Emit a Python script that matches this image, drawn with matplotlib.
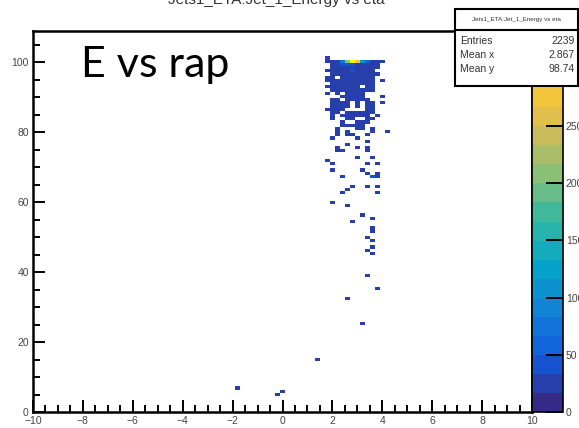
import numpy as np
import matplotlib
matplotlib.use("Agg")
import matplotlib.pyplot as plt
from matplotlib.colors import LinearSegmentedColormap, ListedColormap, BoundaryNorm
from matplotlib.ticker import MultipleLocator
from matplotlib.patches import Rectangle

# TH2 "Jet_1_Energy vs eta".
# each row: energy value and runs of filled rapidity bins (first, last) - low counts
row_y = [101.7, 100.1, 99.2, 98.3, 97.4, 96.4, 95.5, 94.6, 93.7, 92.9,
         92.0, 91.1, 90.2, 89.3, 88.4, 87.7, 86.8, 86.1, 85.2, 84.4,
         83.6, 82.9, 82.2, 81.4, 80.7, 80.0, 79.3, 78.5, 77.1, 76.3,
         75.4, 74.7, 73.3, 72.5, 71.8, 70.9, 69.3, 68.5, 67.7, 67.0,
         64.9, 63.4, 62.5, 60.3, 58.7, 56.6, 55.8, 54.9, 52.5, 51.8,
         50.3, 48.9, 47.3, 46.6, 45.7, 39.0, 35.0, 32.8, 25.1, 15.2,
         6.9, 6.1, 5.3]
row_runs = [
    [(1.8, 1.8)],
    [(1.8, 2.2), (3.6, 4.0)],
    [(2.0, 2.2), (3.0, 3.6), (3.8, 3.8)],
    [(2.0, 3.6), (3.8, 3.8)],
    [(1.8, 1.8), (2.0, 3.6)],
    [(2.0, 3.6), (3.8, 3.8)],
    [(1.8, 2.0), (2.4, 3.6)],
    [(1.8, 3.6), (4.0, 4.0)],
    [(2.0, 3.6)],
    [(1.8, 3.0), (3.4, 3.6)],
    [(2.0, 3.6)],
    [(1.8, 1.8), (2.2, 2.2), (2.6, 3.2)],
    [(2.4, 2.4), (2.6, 3.2), (4.0, 4.0)],
    [(2.0, 2.2), (2.6, 3.2), (3.4, 3.4)],
    [(2.0, 2.2), (2.4, 2.6), (3.0, 3.0), (3.4, 3.6), (4.0, 4.0)],
    [(2.0, 2.6), (3.0, 3.0), (3.4, 3.6)],
    [(1.8, 2.2), (2.4, 2.4), (3.4, 3.6)],
    [(2.0, 2.2), (2.6, 3.2), (3.4, 3.6)],
    [(2.4, 2.4)],
    [(2.0, 2.0), (2.6, 3.4), (3.8, 3.8)],
    [(2.0, 2.0), (2.6, 2.8), (3.4, 3.6)],
    [(2.4, 2.4), (3.0, 3.4)],
    [(2.4, 2.8), (3.0, 3.2)],
    [(2.2, 2.2), (3.0, 3.0), (3.6, 3.6)],
    [(3.2, 3.2)],
    [(2.2, 2.2), (2.6, 2.6), (3.6, 3.6), (4.2, 4.2)],
    [(2.2, 2.2), (2.6, 2.8), (3.4, 3.4)],
    [(2.0, 2.0), (3.0, 3.0)],
    [(3.4, 3.4)],
    [(2.6, 2.6)],
    [(2.2, 2.2), (3.0, 3.0), (3.4, 3.4)],
    [(2.2, 2.4), (3.4, 3.4)],
    [(3.6, 3.6)],
    [(3.0, 3.0)],
    [(1.8, 1.8)],
    [(2.0, 2.0), (3.4, 3.4), (3.8, 3.8)],
    [(2.0, 2.0), (3.2, 3.2)],
    [(3.4, 3.4), (3.8, 3.8)],
    [(2.4, 2.4), (3.6, 3.6), (3.8, 3.8)],
    [(3.6, 3.6)],
    [(2.8, 2.8), (3.4, 3.4), (3.8, 3.8)],
    [(2.6, 2.6)],
    [(2.4, 2.4), (3.8, 3.8)],
    [(2.0, 2.0)],
    [(2.6, 2.6)],
    [(3.2, 3.2)],
    [(3.6, 3.6)],
    [(2.8, 2.8)],
    [(3.6, 3.6)],
    [(3.6, 3.6)],
    [(3.4, 3.4)],
    [(3.6, 3.6)],
    [(3.6, 3.6)],
    [(3.4, 3.4)],
    [(3.6, 3.6)],
    [(3.4, 3.4)],
    [(3.8, 3.8)],
    [(2.6, 2.6)],
    [(3.2, 3.2)],
    [(1.4, 1.4)],
    [(-1.8, -1.8)],
    [(0.0, 0.0)],
    [(-0.2, -0.2)],
]
low_count = 20

# the few busy bins near E = 100
hot_x = [2.4, 2.6, 2.8, 3.0, 3.2, 3.4, 2.4, 2.6, 2.8, 2.8]
hot_y = [100.1, 100.1, 100.1, 100.1, 100.1, 100.1, 99.2, 99.2, 99.2, 97.4]
hot_n = [80, 210, 317, 270, 100, 50, 40, 40, 40, 25]

stats_names = ["Entries", "Mean x", "Mean y"]
stats_vals = ["2239", "2.867", "98.74"]
hist_name = "Jets1_ETA:Jet_1_Energy vs eta"
z_ticks = [0, 50, 100, 150, 200, 250, 300]

# expand runs into bins
xs, ys, ws = [], [], []
for y, runs in zip(row_y, row_runs):
    for x0, x1 in runs:
        for x in np.arange(x0, x1 + 0.01, 0.2):
            xs.append(x); ys.append(y); ws.append(low_count)
xs += hot_x; ys += hot_y; ws += hot_n

xedges = np.arange(-10.1, 10.15, 0.2)
yedges = np.linspace(0, 110, 121)
H, _, _ = np.histogram2d(xs, ys, bins=[xedges, yedges], weights=ws)
H = np.ma.masked_equal(H.T, 0)

# ROOT kBird palette, 20 contour bands
stops = [0, 0.125, 0.25, 0.375, 0.5, 0.625, 0.75, 0.875, 1]
red = [0.2082, 0.0592, 0.0780, 0.0232, 0.1802, 0.5301, 0.8186, 0.9956, 0.9764]
green = [0.1664, 0.3599, 0.5041, 0.6419, 0.7178, 0.7492, 0.7328, 0.7862, 0.9832]
blue = [0.5293, 0.8684, 0.8385, 0.7914, 0.6425, 0.4662, 0.3499, 0.1968, 0.0539]
bird = LinearSegmentedColormap.from_list(
    "bird", [(s, (r, g, b)) for s, r, g, b in zip(stops, red, green, blue)])
cmap = ListedColormap([bird(i / 19) for i in range(20)])
zmax = 333
norm = BoundaryNorm(np.linspace(0, zmax, 21), 20)

plt.rcParams['font.family'] = ['Liberation Sans', 'DejaVu Sans']

W, Hpx = 579, 428
fig = plt.figure(figsize=(W / 100, Hpx / 100), dpi=100)
left, right, top, bottom = 33, 532, 31, 412
ax = fig.add_axes([left / W, 1 - bottom / Hpx, (right - left) / W, (bottom - top) / Hpx])
mesh = ax.pcolormesh(xedges, yedges, H, cmap=cmap, norm=norm)
ax.set_xlim(-10, 10)
ax.set_ylim(0, 109)
ax.set_xticks(np.arange(-10, 11, 2))
ax.set_yticks(np.arange(0, 101, 20))
ax.xaxis.set_minor_locator(MultipleLocator(0.5))
ax.yaxis.set_minor_locator(MultipleLocator(5))
ax.tick_params(which='major', direction='in', length=8.5, width=1.4,
               labelsize=7.5, labelcolor='#444444', pad=3)
ax.tick_params(which='minor', direction='in', length=5, width=1.4)
for s in ax.spines.values():
    s.set_linewidth(1.8)

cax = fig.add_axes([right / W, 1 - bottom / Hpx, 31 / W, (bottom - top) / Hpx])
cb = fig.colorbar(mesh, cax=cax, ticks=z_ticks)
cb.ax.minorticks_off()
cb.ax.tick_params(direction='in', length=12, width=1.4, labelsize=7.5,
                  labelcolor='#444444', pad=2)
cb.outline.set_linewidth(1.2)

# cut-off title
fig.text(276 / W, 1 - 4 / Hpx, hist_name, ha='center', va='baseline',
         fontsize=11, color='#333333')

# stats box
bx0, bx1, by0, by1, bdiv = 455, 578, 9, 86, 30
fig.patches.append(Rectangle((bx0 / W, 1 - by1 / Hpx), (bx1 - bx0) / W,
                             (by1 - by0) / Hpx, transform=fig.transFigure,
                             facecolor='white', edgecolor='black', lw=1.5, zorder=5))
fig.lines.append(plt.Line2D([bx0 / W, bx1 / W], [1 - bdiv / Hpx] * 2,
                            transform=fig.transFigure, color='black', lw=1.5, zorder=6))
fig.text((bx0 + bx1) / 2 / W, 1 - 20 / Hpx, hist_name, ha='center', va='center',
         fontsize=4.5, color='#333333', zorder=7)
for i, (name, val) in enumerate(zip(stats_names, stats_vals)):
    yy = 1 - (41 + 14 * i) / Hpx
    fig.text(460 / W, yy, name, ha='left', va='center', fontsize=7.5,
             color='#333333', zorder=7)
    fig.text(575 / W, yy, val, ha='right', va='center', fontsize=7.5,
             color='#333333', zorder=7)

fig.text(81 / W, 1 - 77 / Hpx, "E vs rap", ha='left', va='baseline',
         fontsize=31, family='Lato', color='black')

fig.savefig("out.png", dpi=100)
